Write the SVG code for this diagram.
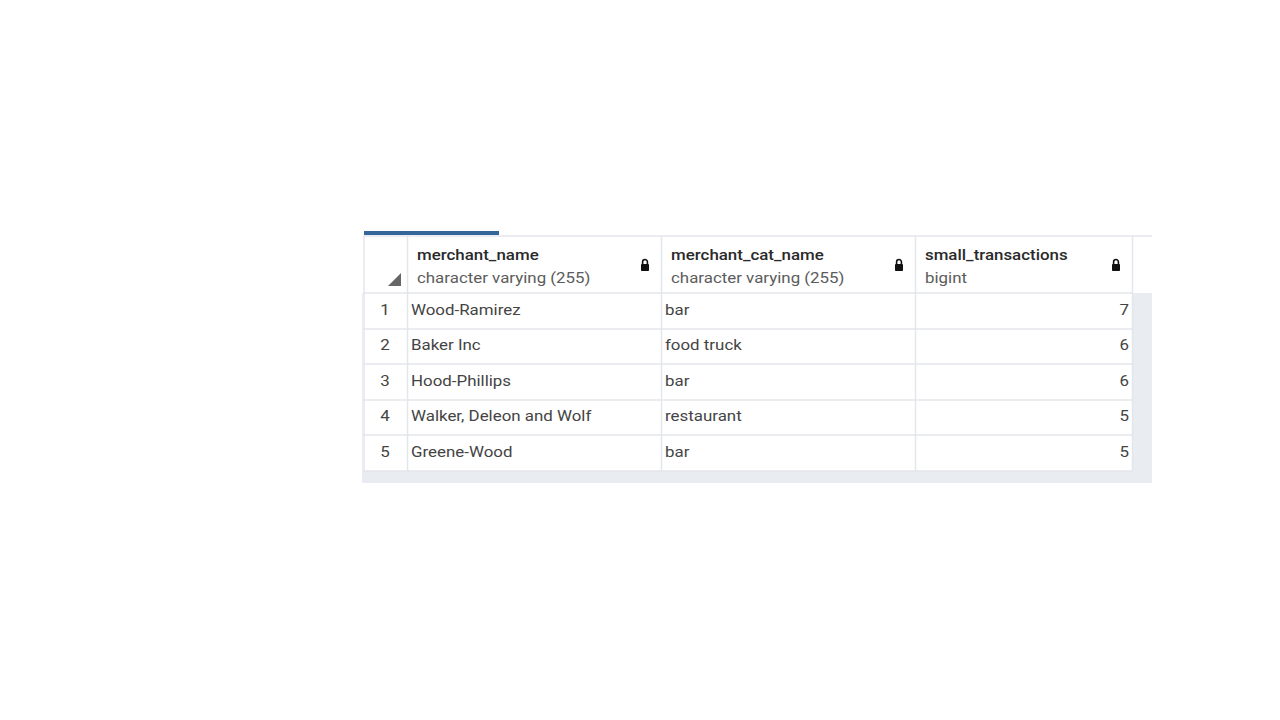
<svg xmlns="http://www.w3.org/2000/svg" width="1280" height="720" viewBox="0 0 1280 720">
<style>
.grid{stroke:#e3e6ea;stroke-width:1.5;fill:none}
.hname{font-family:Roboto,"Liberation Sans",sans-serif;font-size:15.5px;font-weight:500;fill:#2a2a2a}
.htype{font-family:Roboto,"Liberation Sans",sans-serif;font-size:15.5px;fill:#5c5c5c}
.cell{font-family:Roboto,"Liberation Sans",sans-serif;font-size:15.5px;fill:#444}
.num{font-family:Roboto,"Liberation Sans",sans-serif;font-size:15.5px;fill:#444;text-anchor:end}
.rn{font-family:Roboto,"Liberation Sans",sans-serif;font-size:15.5px;fill:#444;text-anchor:middle}
</style>
<defs>
<g id="lock">
<path d="M1.6 6 V3.9 A2.4 2.4 0 0 1 6.4 3.9 V6" fill="none" stroke="#111" stroke-width="1.6"/>
<rect x="0" y="6" width="8" height="7" rx="0.8" fill="#111"/>
</g>
</defs>
<rect width="1280" height="720" fill="#ffffff"/>
<g id="table">
<rect x="362" y="293" width="790" height="190" fill="#e9ecf1"/>
<rect x="363" y="236" width="770" height="235" fill="#ffffff"/>
<rect x="364" y="231" width="135" height="4" fill="#336699"/>
<line class="grid" x1="363" y1="236" x2="1152" y2="236"/>
<g id="grid-lines">
<line class="grid" x1="363" y1="293" x2="1133" y2="293"/>
<line class="grid" x1="363" y1="329" x2="1133" y2="329"/>
<line class="grid" x1="363" y1="364" x2="1133" y2="364"/>
<line class="grid" x1="363" y1="400" x2="1133" y2="400"/>
<line class="grid" x1="363" y1="435" x2="1133" y2="435"/>
<line class="grid" x1="363" y1="471" x2="1133" y2="471"/>
<line class="grid" x1="364" y1="236" x2="364" y2="471"/>
<line class="grid" x1="407.5" y1="236" x2="407.5" y2="471"/>
<line class="grid" x1="661.5" y1="236" x2="661.5" y2="471"/>
<line class="grid" x1="915.5" y1="236" x2="915.5" y2="471"/>
<line class="grid" x1="1132.5" y1="236" x2="1132.5" y2="471"/>
</g>
</g>
<g id="header">
<polygon points="388,286 401,286 401,273" fill="#666"/>
<use href="#lock" x="641" y="258"/>
<use href="#lock" x="895" y="258"/>
<use href="#lock" x="1112" y="258"/>
<g transform="scale(1.09 1)">
<text class="hname" x="382.57" y="260">merchant_name</text>
<text class="htype" x="382.57" y="283">character varying (255)</text>
<text class="hname" x="615.6" y="260">merchant_cat_name</text>
<text class="htype" x="615.6" y="283">character varying (255)</text>
<text class="hname" x="848.6" y="260">small_transactions</text>
<text class="htype" x="848.6" y="283">bigint</text>
</g>
</g>
<g id="rows" transform="scale(1.09 1)">
<text class="rn" x="353.21" y="315.5">1</text>
<text class="cell" x="377.06" y="315.5">Wood-Ramirez</text>
<text class="cell" x="610.09" y="315.5">bar</text>
<text class="num" x="1035.78" y="315.5">7</text>
<text class="rn" x="353.21" y="350.5">2</text>
<text class="cell" x="377.06" y="350.5">Baker Inc</text>
<text class="cell" x="610.09" y="350.5">food truck</text>
<text class="num" x="1035.78" y="350.5">6</text>
<text class="rn" x="353.21" y="386.5">3</text>
<text class="cell" x="377.06" y="386.5">Hood-Phillips</text>
<text class="cell" x="610.09" y="386.5">bar</text>
<text class="num" x="1035.78" y="386.5">6</text>
<text class="rn" x="353.21" y="421.5">4</text>
<text class="cell" x="377.06" y="421.5">Walker, Deleon and Wolf</text>
<text class="cell" x="610.09" y="421.5">restaurant</text>
<text class="num" x="1035.78" y="421.5">5</text>
<text class="rn" x="353.21" y="457.5">5</text>
<text class="cell" x="377.06" y="457.5">Greene-Wood</text>
<text class="cell" x="610.09" y="457.5">bar</text>
<text class="num" x="1035.78" y="457.5">5</text>
</g>
</svg>
